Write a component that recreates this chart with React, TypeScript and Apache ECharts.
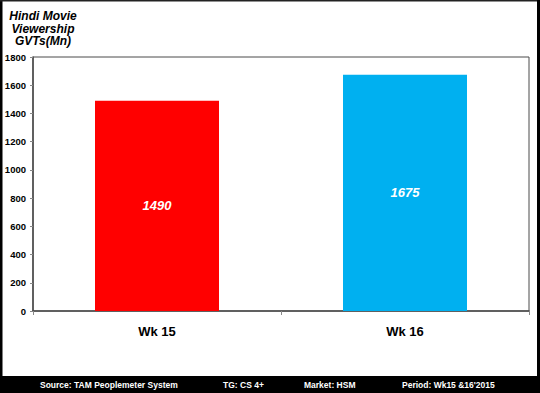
import React, { useEffect, useRef } from "react";
import * as echarts from "echarts";

const categories = ["Wk 15", "Wk 16"];
const viewership = [1490, 1675];
const yTicks = { min: 0, max: 1800, interval: 200 };
const titleLines = ["Hindi Movie", "Viewership", "GVTs(Mn)"];
const footerTexts = [
  "Source: TAM Peoplemeter System",
  "TG: CS 4+",
  "Market: HSM",
  "Period: Wk15 &16'2015",
];

const barColors = ["#FF0000", "#00B0F0"];
const footerX = [40, 223, 304, 402];
const FONT = "'Liberation Sans', Arial, sans-serif";

export default function App() {
  const ref = useRef<HTMLDivElement>(null);

  useEffect(() => {
    document.body.style.margin = "0";
    if (!ref.current) return;
    const chart = echarts.init(ref.current, undefined, { renderer: "svg" });
    chart.setOption({
      animation: false,
      backgroundColor: "#ffffff",
      grid: {
        left: 33,
        right: 11,
        top: 57,
        bottom: 82,
        show: true,
        borderColor: "#4a4a4a",
        borderWidth: 1,
        backgroundColor: "transparent",
      },
      xAxis: {
        type: "category",
        data: categories,
        axisLine: { show: true, lineStyle: { color: "#4a4a4a", width: 1.5 } },
        axisTick: { show: true, alignWithLabel: false, length: 4, lineStyle: { color: "#888" } },
        axisLabel: {
          margin: 14,
          color: "#000",
          fontFamily: FONT,
          fontWeight: "bold",
          fontSize: 13,
        },
        splitLine: { show: false },
      },
      yAxis: {
        type: "value",
        min: yTicks.min,
        max: yTicks.max,
        interval: yTicks.interval,
        axisLine: { show: true, lineStyle: { color: "#4a4a4a", width: 1.5 } },
        axisTick: { show: true, length: 3, lineStyle: { color: "#888" } },
        axisLabel: {
          margin: 7,
          color: "#000",
          fontFamily: FONT,
          fontWeight: "bold",
          fontSize: 9.5,
          formatter: (v: number) => String(v),
        },
        splitLine: { show: false },
      },
      series: [
        {
          type: "bar",
          barWidth: "50%",
          data: viewership.map((v, i) => ({
            value: v,
            itemStyle: { color: barColors[i] },
          })),
          label: {
            show: true,
            position: "inside",
            color: "#fff",
            fontFamily: FONT,
            fontWeight: "bold",
            fontStyle: "italic",
            fontSize: 13,
          },
        },
      ],
      graphic: [
        {
          type: "text",
          x: 43,
          y: 10,
          style: {
            text: titleLines.join("\n"),
            textAlign: "center",
            fill: "#000",
            font: `italic bold 12px ${FONT}`,
            lineHeight: 12.5,
          },
        },
        { type: "rect", shape: { x: 0, y: 376, width: 540, height: 17 }, style: { fill: "#000" } },
        { type: "rect", shape: { x: 0, y: 0, width: 2.5, height: 393 }, style: { fill: "#000" } },
        { type: "rect", shape: { x: 0, y: 0, width: 540, height: 1.5 }, style: { fill: "#222" } },
        { type: "rect", shape: { x: 537, y: 0, width: 3, height: 393 }, style: { fill: "#000" } },
        ...footerTexts.map((t, i) => ({
          type: "text",
          x: footerX[i],
          y: 385,
          style: {
            text: t,
            fill: "#fff",
            font: `bold 8.5px ${FONT}`,
            textVerticalAlign: "middle",
          },
        })),
      ],
    });
    return () => chart.dispose();
  }, []);

  return <div ref={ref} style={{ width: 540, height: 393 }} />;
}
